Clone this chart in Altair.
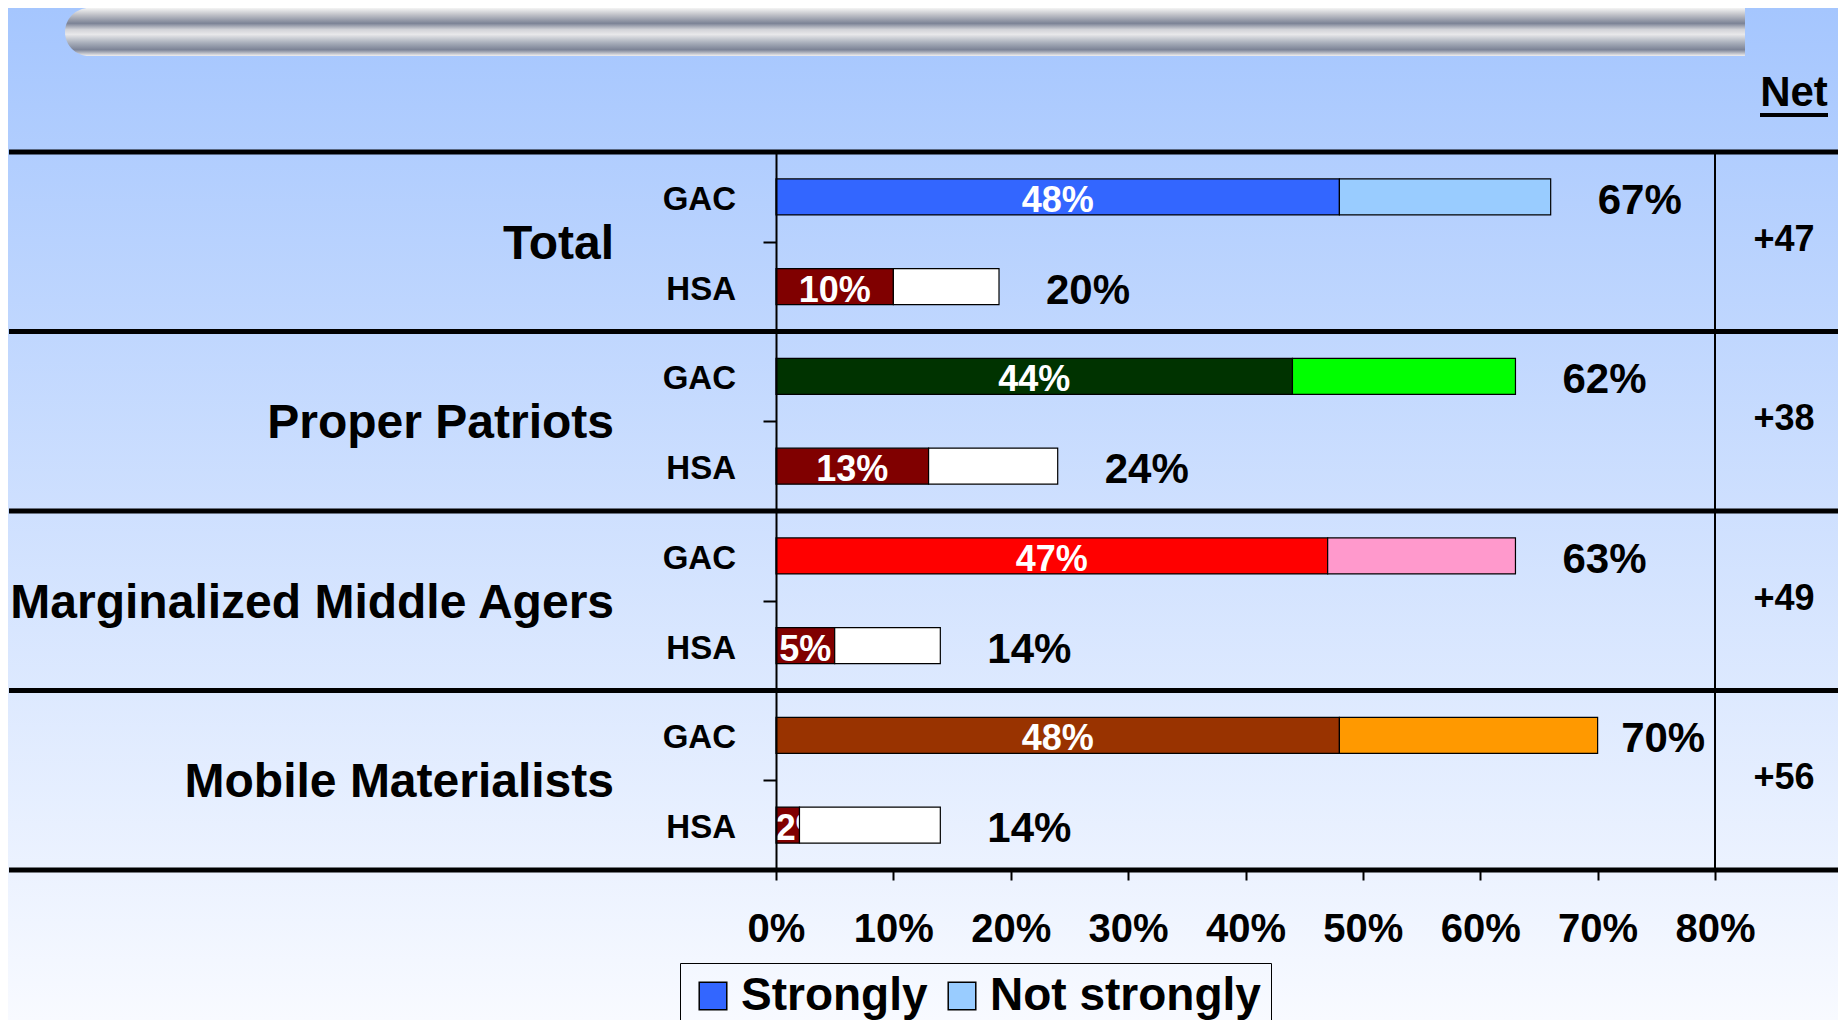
import altair as alt
import pandas as pd

F = "Liberation Sans"

# ---- data ----
groups = ["Total", "Proper Patriots", "Marginalized Middle Agers", "Mobile Materialists"]
types = ["GAC", "HSA"]
parts = ["Strongly", "Not strongly"]
gac_strongly = [48, 44, 47, 48]
gac_not_strongly = [18, 19, 16, 22]
hsa_strongly = [10, 13, 5, 2]
hsa_not_strongly = [9, 11, 9, 12]
gac_total_labels = ["67%", "62%", "63%", "70%"]
hsa_total_labels = ["20%", "24%", "14%", "14%"]
net_labels = ["+47", "+38", "+49", "+56"]
gac_strong_colors = ["#3366ff", "#003300", "#ff0000", "#993300"]
gac_weak_colors = ["#99ccff", "#00ff00", "#ff99cc", "#ff9900"]
hsa_strong_color = "#800000"
hsa_weak_color = "#ffffff"
x_ticks = [0, 10, 20, 30, 40, 50, 60, 70, 80]

# ---- tables ----
rows, keys, colors = [], [], []
for g, name in enumerate(groups):
    for t, typ in enumerate(types):
        s = gac_strongly[g] if t == 0 else hsa_strongly[g]
        ns = gac_not_strongly[g] if t == 0 else hsa_not_strongly[g]
        lab = gac_total_labels[g] if t == 0 else hsa_total_labels[g]
        ks, kn = f"{name}|{typ}|{parts[0]}", f"{name}|{typ}|{parts[1]}"
        rows.append(dict(group=name, type=typ, pos=2 * g + t, zero=0, s=s, end=s + ns,
                         inner=f"{s}%", outer=lab, key_s=ks, key_ns=kn))
        keys += [ks, kn]
        colors += [gac_strong_colors[g] if t == 0 else hsa_strong_color,
                   gac_weak_colors[g] if t == 0 else hsa_weak_color]
df = pd.DataFrame(rows)
gdf = pd.DataFrame(dict(group=groups, net=net_labels,
                        gpos=[2 * g + 0.5 for g in range(len(groups))]))
sep = pd.DataFrame(dict(b=[2 * g - 0.5 for g in range(len(groups) + 1)]))
one = pd.DataFrame(dict(v=[x_ticks[-1]], t=["Net"]))

W, H = 939, 718
PL, PT, PR, PB = 768, 144, 123, 150

yscale = alt.Scale(domain=[-0.5, 2 * len(groups) - 0.5], reverse=True, nice=False,
                   zero=False, padding=0)
yaxis = alt.Axis(values=[i - 0.5 for i in range(2 * len(groups) + 1)], labels=False,
                 tickSize=13, tickWidth=2, tickColor="black", domain=True,
                 domainColor="black", domainWidth=2, grid=False, title=None, zindex=1)
xscale = alt.Scale(domain=[x_ticks[0], x_ticks[-1]], nice=False, padding=0)
xaxis = alt.Axis(values=x_ticks, labelExpr="datum.value + '%'", tickSize=10, tickWidth=2,
                 tickColor="black", domain=False, grid=False, title=None, labelFontSize=40,
                 labelFont=F, labelFontWeight="bold", labelColor="black", labelPadding=29,
                 labelFlush=False, labelOverlap=False, zindex=1)

def X(f):
    return alt.X(f, scale=xscale, axis=xaxis)

def Y(f):
    return alt.Y(f, scale=yscale, axis=yaxis)

cscale = alt.Scale(domain=keys, range=colors)
legend = alt.Legend(orient="none", legendX=-96, legendY=811, direction="horizontal",
                    values=[keys[0], keys[1]], labelExpr="split(datum.value, '|')[2]",
                    symbolType="square", symbolSize=760, symbolStrokeColor="black",
                    symbolStrokeWidth=1.5, symbolOpacity=1, labelFontSize=46, labelFont=F,
                    labelFontWeight="bold", labelColor="black", labelOffset=5,
                    columnPadding=11, padding=10, strokeColor="black", title=None,
                    labelLimit=500)

bg = alt.Chart(one).mark_rect(
    fill=alt.Gradient(gradient="linear", x1=0, x2=0, y1=0, y2=1,
                      stops=[alt.GradientStop(color="#a5c6fe", offset=0),
                             alt.GradientStop(color="#f8faff", offset=1)])
).encode(x=alt.value(-PL), x2=alt.value(W + PR), y=alt.value(-PT), y2=alt.value(H + PB))

tube = alt.Chart(one).mark_rect(
    cornerRadiusTopLeft=24, cornerRadiusBottomLeft=24,
    fill=alt.Gradient(gradient="linear", x1=0, x2=0, y1=0, y2=1,
                      stops=[alt.GradientStop(color="#f4f4f4", offset=0),
                             alt.GradientStop(color="#c8c9ce", offset=0.12),
                             alt.GradientStop(color="#7c8396", offset=0.32),
                             alt.GradientStop(color="#d2d3d8", offset=0.45),
                             alt.GradientStop(color="#e8e8ea", offset=0.55),
                             alt.GradientStop(color="#aab0bc", offset=0.72),
                             alt.GradientStop(color="#7c8396", offset=0.87),
                             alt.GradientStop(color="#f0f0f0", offset=1)])
).encode(x=alt.value(-711), x2=alt.value(969), y=alt.value(-144), y2=alt.value(-96))

seps = alt.Chart(sep).mark_rule(color="black", strokeWidth=5).encode(
    y=Y("b:Q"), x=alt.value(-767), x2=alt.value(W + PR + 10))

right = alt.Chart(one).mark_rule(color="black", strokeWidth=2).encode(x=X("v:Q"))

strong = alt.Chart(df).mark_bar(orient="horizontal", size=36, stroke="black",
                                strokeWidth=1.2).encode(
    x=X("zero:Q"), x2="s:Q", y=Y("pos:Q"),
    fill=alt.Fill("key_s:N", scale=cscale, legend=legend))

# inner label centred in the "strongly" segment, kept from running left of the axis
inner = alt.Chart(df).transform_calculate(
    mid="max(datum.s / 2, 2.2)"
).mark_text(color="white", fontSize=36, font=F, fontWeight="bold",
            baseline="middle", align="center", dy=4).encode(
    x=X("mid:Q"), y=Y("pos:Q"), text="inner:N")

weak = alt.Chart(df).mark_bar(orient="horizontal", size=36, stroke="black",
                              strokeWidth=1.2).encode(
    x=X("s:Q"), x2="end:Q", y=Y("pos:Q"),
    fill=alt.Fill("key_ns:N", scale=cscale, legend=legend))

# total label right of the bar, kept left of the 80% border
outer = alt.Chart(df).transform_calculate(
    lx="min(datum.end, 68)"
).mark_text(color="black", fontSize=42, font=F, fontWeight="bold",
            baseline="middle", align="left", dx=47, dy=4).encode(
    x=X("lx:Q"), y=Y("pos:Q"), text="outer:N")

tlab = alt.Chart(df).mark_text(color="black", fontSize=33, font=F, fontWeight="bold",
                               baseline="middle", align="right", dy=3).encode(
    x=alt.value(-40), y=Y("pos:Q"), text="type:N")

glab = alt.Chart(gdf).mark_text(color="black", fontSize=48, font=F, fontWeight="bold",
                                baseline="middle", align="right", dy=3).encode(
    x=alt.value(-162), y=Y("gpos:Q"), text="group:N")

nlab = alt.Chart(gdf).mark_text(color="black", fontSize=36, font=F, fontWeight="bold",
                                baseline="middle", align="center", dy=-2).encode(
    x=alt.value(1008), y=Y("gpos:Q"), text="net:N")

nhead = alt.Chart(one).mark_text(color="black", fontSize=42, font=F, fontWeight="bold",
                                 baseline="alphabetic", align="center").encode(
    x=alt.value(1018), y=alt.value(-46), text="t:N")

nline = alt.Chart(one).mark_rule(color="black", strokeWidth=4).encode(
    x=alt.value(984), x2=alt.value(1052), y=alt.value(-37))

chart = alt.layer(bg, tube, seps, right, strong, inner, weak, outer, tlab, glab, nlab,
                  nhead, nline).properties(
    width=W, height=H,
    padding={"left": PL, "top": PT, "right": PR, "bottom": PB},
    autosize=alt.AutoSizeParams(type="none"),
).configure_view(stroke=None)

chart.save("out.html", embed_options={"renderer": "svg", "actions": False})
